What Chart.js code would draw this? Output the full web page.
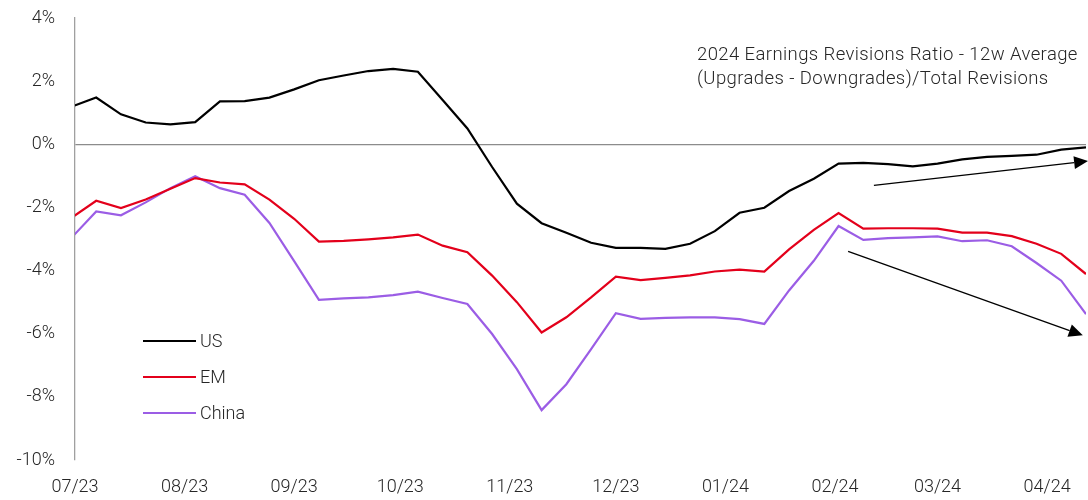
<!DOCTYPE html>
<html>
<head>
<meta charset="utf-8">
<script src="https://cdn.jsdelivr.net/npm/chart.js@4"></script>
<style>
  html, body { margin: 0; padding: 0; background: #fff; }
  canvas { display: block; }
</style>
</head>
<body>
<canvas id="myChart" width="1088" height="500"></canvas>
<script>
// weekly observations (Fridays)
const weeks = [
  '2023-06-30', '2023-07-07', '2023-07-14', '2023-07-21', '2023-07-28',
  '2023-08-04', '2023-08-11', '2023-08-18', '2023-08-25',
  '2023-09-01', '2023-09-08', '2023-09-15', '2023-09-22', '2023-09-29',
  '2023-10-06', '2023-10-13', '2023-10-20', '2023-10-27',
  '2023-11-03', '2023-11-10', '2023-11-17', '2023-11-24',
  '2023-12-01', '2023-12-08', '2023-12-15', '2023-12-22', '2023-12-29',
  '2024-01-05', '2024-01-12', '2024-01-19', '2024-01-26',
  '2024-02-02', '2024-02-09', '2024-02-16', '2024-02-23',
  '2024-03-01', '2024-03-08', '2024-03-15', '2024-03-22', '2024-03-29',
  '2024-04-05', '2024-04-12'
];

const usVals = [1.19, 1.48, 0.95, 0.69, 0.63, 0.70, 1.36, 1.37, 1.48, 1.74,
  2.03, 2.18, 2.32, 2.39, 2.30, 1.40, 0.50, -0.72, -1.88, -2.50,
  -2.80, -3.12, -3.28, -3.28, -3.31, -3.15, -2.75, -2.17, -2.01, -1.48,
  -1.09, -0.61, -0.59, -0.63, -0.70, -0.61, -0.48, -0.40, -0.37, -0.33,
  -0.17, -0.10];

const emVals = [-2.33, -1.79, -2.02, -1.75, -1.41, -1.07, -1.21, -1.27, -1.75, -2.36,
  -3.08, -3.06, -3.01, -2.95, -2.86, -3.21, -3.42, -4.16, -5.00, -5.96,
  -5.48, -4.85, -4.19, -4.30, -4.23, -4.15, -4.03, -3.97, -4.03, -3.33,
  -2.71, -2.18, -2.67, -2.66, -2.66, -2.67, -2.80, -2.80, -2.91, -3.15,
  -3.47, -4.11];

const chinaVals = [-2.96, -2.13, -2.25, -1.84, -1.39, -1.01, -1.39, -1.60, -2.49, -3.70,
  -4.93, -4.88, -4.85, -4.78, -4.67, -4.87, -5.06, -6.01, -7.12, -8.42,
  -7.60, -6.49, -5.35, -5.53, -5.50, -5.48, -5.48, -5.54, -5.69, -4.63,
  -3.69, -2.59, -3.03, -2.97, -2.95, -2.92, -3.07, -3.04, -3.23, -3.76,
  -4.32, -5.38];

const monthStarts = ['2023-07-01', '2023-08-01', '2023-09-01', '2023-10-01', '2023-11-01',
  '2023-12-01', '2024-01-01', '2024-02-01', '2024-03-01', '2024-04-01'];
const monthLabels = ['07/23', '08/23', '09/23', '10/23', '11/23',
  '12/23', '01/24', '02/24', '03/24', '04/24'];

const yTicks = [-10, -8, -6, -4, -2, 0, 2, 4];

const titleLines = ['2024 Earnings Revisions Ratio - 12w Average', '(Upgrades - Downgrades)/Total Revisions'];

// trend arrows, [day, value]
const arrows = [
  { from: [226, -1.30], to: [286.6, -0.53] },
  { from: [218.7, -3.39], to: [285.1, -6.05] }
];

const t0 = Date.parse(monthStarts[0]);
const day = d => (Date.parse(d) - t0) / 86400000;
const xs = weeks.map(day);
const toPts = vals => vals.map((v, i) => ({ x: xs[i], y: v }));

const FONT = 'Roboto, "Liberation Sans", sans-serif';
const TXT = '#262626';

const extras = {
  id: 'extras',
  afterDatasetsDraw(chart) {
    const c = chart.ctx;
    const x = chart.scales.x, y = chart.scales.y;
    c.save();
    c.strokeStyle = '#000';
    c.fillStyle = '#000';
    c.lineWidth = 1.3;
    arrows.forEach(a => {
      const x1 = x.getPixelForValue(a.from[0]), y1 = y.getPixelForValue(a.from[1]);
      const x2 = x.getPixelForValue(a.to[0]), y2 = y.getPixelForValue(a.to[1]);
      const ang = Math.atan2(y2 - y1, x2 - x1);
      const len = 14, hw = 6.5;
      const bx = x2 - len * Math.cos(ang), by = y2 - len * Math.sin(ang);
      c.beginPath();
      c.moveTo(x1, y1);
      c.lineTo(bx, by);
      c.stroke();
      c.beginPath();
      c.moveTo(x2, y2);
      c.lineTo(bx + hw * Math.sin(ang), by - hw * Math.cos(ang));
      c.lineTo(bx - hw * Math.sin(ang), by + hw * Math.cos(ang));
      c.closePath();
      c.fill();
    });
    c.restore();
  },
  afterDraw(chart) {
    const c = chart.ctx;
    c.save();
    c.fillStyle = TXT;
    c.textBaseline = 'middle';
    c.textAlign = 'left';
    c.font = '300 18.5px ' + FONT;
    c.letterSpacing = '0.4px';
    c.fillText(titleLines[0], 697, 55);
    c.fillText(titleLines[1], 697, 79);
    c.letterSpacing = '0px';
    c.font = '300 18px ' + FONT;
    // legend
    chart.data.datasets.forEach((ds, i) => {
      const ly = 341 + i * 36;
      c.strokeStyle = ds.borderColor;
      c.lineWidth = 2.2;
      c.beginPath();
      c.moveTo(143, ly);
      c.lineTo(196, ly);
      c.stroke();
      c.fillText(ds.label, 200, ly + 1);
    });
    c.restore();
  }
};

const ctx = document.getElementById('myChart');

new Chart(ctx, {
  type: 'line',
  data: {
    datasets: [
      { label: 'US', data: toPts(usVals), borderColor: '#000000' },
      { label: 'EM', data: toPts(emVals), borderColor: '#e3001b' },
      { label: 'China', data: toPts(chinaVals), borderColor: '#9b5de5' }
    ]
  },
  options: {
    responsive: false,
    animation: false,
    devicePixelRatio: 1,
    layout: { padding: { top: 18, right: 2, left: 0, bottom: 0 } },
    elements: {
      line: { borderWidth: 2.2, tension: 0, borderJoinStyle: 'miter' },
      point: { radius: 0, hoverRadius: 0 }
    },
    plugins: { legend: { display: false }, tooltip: { enabled: false } },
    scales: {
      x: {
        type: 'linear',
        min: 0,
        max: xs[xs.length - 1],
        afterBuildTicks: s => { s.ticks = monthStarts.map(d => ({ value: day(d) })); },
        afterFit: s => { s.height = 40; },
        grid: { display: false, drawTicks: false },
        border: { display: false },
        ticks: {
          autoSkip: false,
          maxRotation: 0,
          padding: 17,
          color: TXT,
          font: { family: FONT, size: 18, weight: '300' },
          callback: (v, i) => monthLabels[i]
        }
      },
      y: {
        min: -10,
        max: 4,
        afterBuildTicks: s => { s.ticks = yTicks.map(v => ({ value: v })); },
        afterFit: s => { s.width = 75; s.paddingTop = 0; s.paddingBottom = 0; },
        grid: {
          drawTicks: false,
          lineWidth: 1.3,
          color: c => (c.tick && c.tick.value === 0) ? '#8c8c8c' : 'rgba(0,0,0,0)'
        },
        border: { display: true, color: '#a0a0a0', width: 1.3 },
        ticks: {
          padding: 20,
          color: TXT,
          font: { family: FONT, size: 18, weight: '300' },
          callback: v => v + '%'
        }
      }
    }
  },
  plugins: [extras]
});
</script>
</body>
</html>
